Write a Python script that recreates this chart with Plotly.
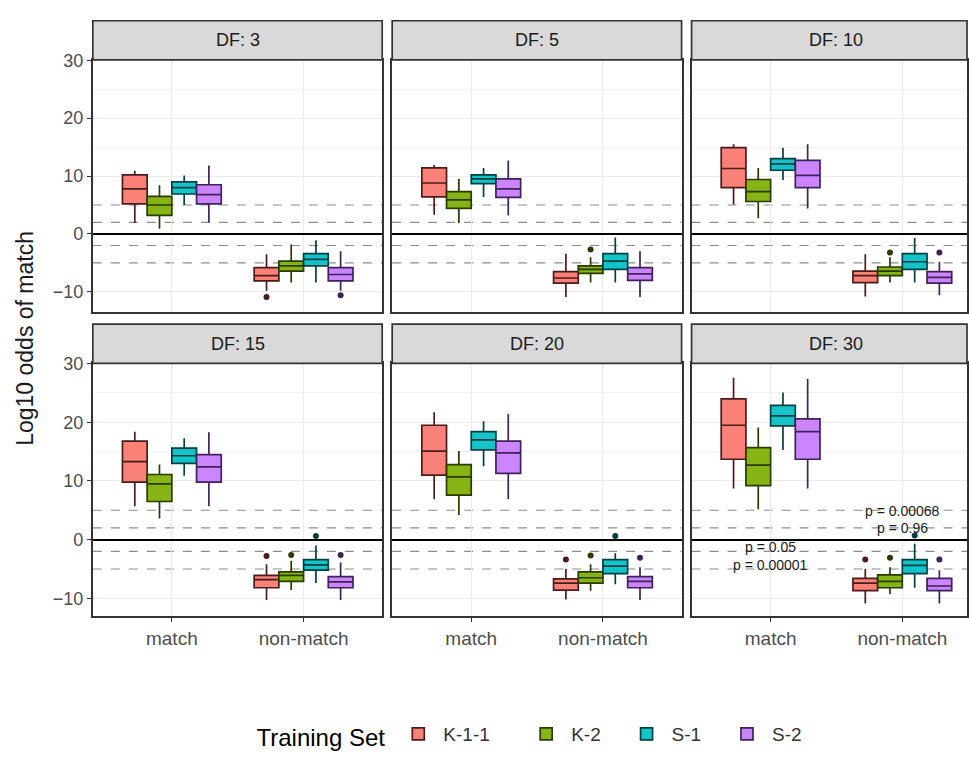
import plotly.graph_objects as go

# ---------------- data ----------------
DFS = [3, 5, 10, 15, 20, 30]
GROUPS = ["K-1-1", "K-2", "S-1", "S-2"]
CATEGORIES = ["match", "non-match"]

# rows: DF panels; columns: groups (K-1-1, K-2, S-1, S-2)
MATCH_LOW = [[1.9, 0.9, 5.0, 2.0], [3.3, 1.9, 6.4, 3.2], [5.1, 2.7, 9.3, 4.4],
             [5.7, 3.6, 10.9, 5.7], [6.9, 4.2, 12.5, 6.9], [8.7, 5.2, 15.3, 8.7]]
MATCH_Q1 = [[5.2, 3.2, 6.9, 5.2], [6.4, 4.4, 8.7, 6.3], [8.0, 5.6, 11.0, 8.0],
            [9.8, 6.5, 13.0, 9.8], [11.0, 7.6, 15.3, 11.3], [13.7, 9.2, 19.4, 13.7]]
MATCH_MED = [[7.8, 5.0, 8.0, 6.8], [8.8, 5.9, 9.5, 7.8], [11.3, 7.3, 12.1, 10.1],
             [13.3, 9.5, 14.3, 12.4], [15.1, 10.7, 17.0, 14.8], [19.5, 12.7, 21.1, 18.4]]
MATCH_Q3 = [[10.2, 6.5, 9.0, 8.5], [11.4, 7.3, 10.2, 9.5], [14.9, 9.4, 13.0, 12.7],
            [16.8, 11.1, 15.6, 14.5], [19.5, 12.8, 18.4, 16.8], [24.0, 15.7, 22.9, 20.6]]
MATCH_HIGH = [[10.9, 8.4, 10.1, 11.8], [11.9, 9.5, 11.4, 12.7], [15.5, 11.4, 14.9, 15.5],
              [18.4, 12.8, 17.3, 18.3], [21.7, 15.1, 20.2, 21.4], [27.6, 19.1, 25.1, 27.4]]

NONMATCH_LOW = [[-9.8, -8.4, -8.4, -9.8], [-10.9, -8.4, -8.4, -10.9], [-10.8, -8.4, -8.4, -10.6],
                [-10.3, -8.6, -7.4, -10.3], [-10.2, -8.7, -7.6, -10.3], [-10.9, -9.3, -8.2, -10.9]]
NONMATCH_Q1 = [[-8.1, -6.4, -5.5, -8.1], [-8.5, -6.8, -6.1, -8.0], [-8.4, -7.2, -6.1, -8.5],
               [-8.2, -7.1, -5.2, -8.2], [-8.6, -7.4, -5.8, -8.2], [-8.7, -8.2, -5.8, -8.7]]
NONMATCH_MED = [[-7.2, -5.5, -4.4, -7.0], [-7.6, -6.1, -4.7, -6.9], [-7.2, -6.4, -4.8, -7.5],
                [-6.8, -6.1, -4.3, -7.2], [-7.4, -6.5, -4.5, -7.1], [-7.4, -7.1, -4.4, -7.9]]
NONMATCH_Q3 = [[-5.8, -4.7, -3.4, -5.8], [-6.5, -5.5, -3.4, -5.8], [-6.4, -5.7, -3.4, -6.5],
               [-6.1, -5.5, -3.4, -6.3], [-6.7, -5.5, -3.4, -6.3], [-6.6, -6.0, -3.4, -6.6]]
NONMATCH_HIGH = [[-3.5, -1.8, -1.1, -3.0], [-3.4, -4.0, -0.6, -3.0], [-3.5, -4.0, -0.7, -4.8],
                 [-4.2, -3.6, -1.0, -3.9], [-5.0, -4.2, -2.3, -4.7], [-5.0, -4.7, -0.7, -5.2]]
NONMATCH_OUTLIERS = [[[-10.9], [], [], [-10.6]],
                     [[], [-2.7], [], []],
                     [[], [-3.2], [], [-3.2]],
                     [[-2.8], [-2.6], [0.6], [-2.6]],
                     [[-3.4], [-2.7], [0.6], [-3.1]],
                     [[-3.4], [-3.1], [0.7], [-3.4]]]

REF_LINES = [5, 2, -2, -5]
P_LABELS = [("non-match", 4.9, "p = 0.00068"), ("non-match", 2.0, "p = 0.96"),
            ("match", -1.3, "p = 0.05"), ("match", -4.3, "p = 0.00001")]

Y_TICKS = [-10, 0, 10, 20, 30]
Y_MINOR = [15, 25]   # the -5 / 5 minor lines are covered by dashed reference lines

# ---------------- style ----------------
FILLS = ["rgba(248,118,109,0.92)", "rgba(124,174,0,0.92)", "rgba(0,191,196,0.92)", "rgba(199,124,255,0.92)"]
LINES = ["#4A1C19", "#2A3A00", "#003F42", "#3E2258"]
LEGEND_PAD = [5, 3, 3, 0]  # non-breaking spaces after legend labels (spacing only)
FONT = "Liberation Sans, Arial, sans-serif"

W, H = 969, 757
COLS = [(93, 383), (393, 683), (693, 969)]
ROWS = [(52, 310), (362, 620)]
ROW_RANGES = [[-13.55, 30.05], [-13.0, 30.05]]
STRIP_H = 40
PX_PER_UNIT = 132.0  # category spacing in px
BOX_W = 0.1875

fig = go.Figure()

def xref(i):
    return "x" if i == 0 else f"x{i+1}"

def yref(i):
    return "y" if i == 0 else f"y{i+1}"

for p, df in enumerate(DFS):
    for g, grp in enumerate(GROUPS):
        off = (g - 1.5) * BOX_W
        xs = [1 + off, 2 + off]
        fig.add_trace(go.Box(
            x=xs,
            q1=[MATCH_Q1[p][g], NONMATCH_Q1[p][g]],
            median=[MATCH_MED[p][g], NONMATCH_MED[p][g]],
            q3=[MATCH_Q3[p][g], NONMATCH_Q3[p][g]],
            lowerfence=[MATCH_LOW[p][g], NONMATCH_LOW[p][g]],
            upperfence=[MATCH_HIGH[p][g], NONMATCH_HIGH[p][g]],
            width=BOX_W,
            whiskerwidth=0,
            fillcolor=FILLS[g],
            line=dict(color=LINES[g], width=1.7),
            boxpoints=False,
            name=grp + "\u00a0" * LEGEND_PAD[g],
            legendgroup=grp,
            showlegend=(p == 0),
            xaxis=xref(p), yaxis=yref(p),
            hoverinfo="skip",
        ))
        outs = NONMATCH_OUTLIERS[p][g]
        if outs:
            fig.add_trace(go.Scatter(
                x=[2 + off] * len(outs), y=outs, mode="markers",
                marker=dict(color=LINES[g], size=6),
                showlegend=False, legendgroup=grp,
                xaxis=xref(p), yaxis=yref(p), hoverinfo="skip",
            ))

layout = dict(
    width=W, height=H,
    margin=dict(l=0, r=0, t=0, b=0),
    paper_bgcolor="white", plot_bgcolor="white",
    font=dict(family=FONT, color="#4D4D4D", size=12),
    showlegend=True,
    legend=dict(
        orientation="h", x=255 / W, xanchor="left", y=1 - 743 / H, yanchor="middle",
        title=dict(text="Training Set", font=dict(size=24, color="#000000"), side="left"),
        font=dict(size=19, color="#333333"),
        itemwidth=40, tracegroupgap=0,
    ),
    boxmode="overlay",
)

shapes = []
annotations = []
for p, df in enumerate(DFS):
    r, c = divmod(p, 3)
    x0, x1 = COLS[c]
    ytop, ybot = ROWS[r]
    xdom = [x0 / W, min(x1 / W, 1.0)]
    ydom = [1 - ybot / H, 1 - ytop / H]
    xr = [0.4, 0.4 + (x1 - x0) / PX_PER_UNIT]
    suffix = "" if p == 0 else str(p + 1)
    layout["xaxis" + suffix] = dict(
        domain=xdom, range=xr, anchor=yref(p),
        tickvals=[1, 2], ticktext=CATEGORIES if r == 1 else ["", ""],
        showticklabels=(r == 1),
        ticks="outside" if r == 1 else "", ticklen=4, tickcolor="#333333",
        tickfont=dict(size=19, color="#4D4D4D"),
        showgrid=True, gridcolor="#EBEBEB", gridwidth=1,
        zeroline=False, showline=True, mirror=True, linecolor="#333333", linewidth=1.7,
    )
    layout["yaxis" + suffix] = dict(
        domain=ydom, range=ROW_RANGES[r], anchor=xref(p),
        tickvals=Y_TICKS, ticktext=[("\u2212" + str(-v)) if v < 0 else str(v) for v in Y_TICKS],
        showticklabels=(c == 0),
        ticks="outside" if c == 0 else "", ticklen=4, tickcolor="#333333",
        tickfont=dict(size=18, color="#4D4D4D"),
        showgrid=True, gridcolor="#EBEBEB", gridwidth=1,
        minor=dict(tickmode="array", tickvals=Y_MINOR, showgrid=True,
                   gridcolor="#F2F2F2", gridwidth=0.6, ticks=""),
        zeroline=True, zerolinecolor="#000000", zerolinewidth=2.2,
        showline=True, mirror=True, linecolor="#333333", linewidth=1.7,
    )
    # strip
    shapes.append(dict(
        type="rect", xref="paper", yref="paper",
        x0=xdom[0], x1=xdom[1], y0=ydom[1], y1=ydom[1] + STRIP_H / H,
        fillcolor="#D9D9D9", line=dict(color="#333333", width=1.7), layer="above",
    ))
    annotations.append(dict(
        xref="paper", yref="paper", x=(x0 + x0 + 290) / 2 / W, y=ydom[1] + STRIP_H / 2 / H,
        text=f"DF: {df}", showarrow=False, font=dict(size=18, color="#1A1A1A"),
        xanchor="center", yanchor="middle",
    ))
    for v in REF_LINES:
        shapes.append(dict(
            type="line", xref=f"{xref(p)} domain", yref=yref(p),
            x0=0, x1=1, y0=v, y1=v,
            line=dict(color="#8C8C8C", width=1.1, dash="dash"), layer="below",
        ))

# p-value labels in last panel
last = len(DFS) - 1
for cat, yv, txt in P_LABELS:
    annotations.append(dict(
        xref=xref(last), yref=yref(last), x=CATEGORIES.index(cat) + 1, y=yv,
        text=txt, showarrow=False, font=dict(size=14, color="#1A1A1A"),
        xanchor="center", yanchor="middle",
    ))

# y-axis title
annotations.append(dict(
    xref="paper", yref="paper", x=25 / W, y=1 - 336 / H,
    text="Log10 odds of match", textangle=-90, showarrow=False,
    font=dict(size=23, color="#1A1A1A"), xanchor="center", yanchor="middle",
))

layout["shapes"] = shapes
layout["annotations"] = annotations
fig.update_layout(**layout)

fig.write_html("out.html")
